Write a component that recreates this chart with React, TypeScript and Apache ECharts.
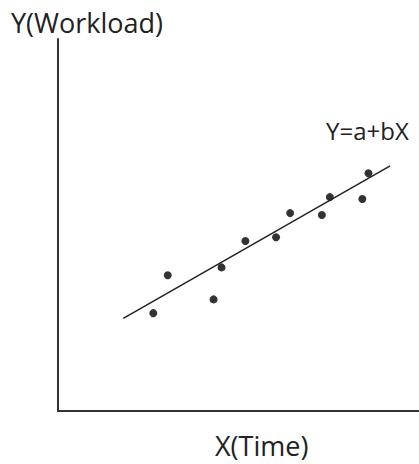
import React, { useEffect, useRef } from "react";
import * as echarts from "echarts";

const pointsX = [26.4, 30.4, 43.1, 45.3, 51.9, 60.4, 64.3, 73.1, 75.3, 84.3, 86.0];
const pointsY = [26.3, 36.5, 30.0, 38.6, 45.7, 46.7, 53.2, 52.7, 57.5, 57.0, 63.9];
const fitLineX = [18.1, 92.0];
const fitLineY = [24.9, 65.9];
const yAxisName = "Y(Workload)";
const xAxisName = "X(Time)";
const lineLabel = "Y=a+bX";

export default function App() {
  const ref = useRef<HTMLDivElement>(null);
  useEffect(() => {
    if (!ref.current) return;
    const chart = echarts.init(ref.current, null, { renderer: "svg" });
    const font = "'Open Sans', sans-serif";
    const textColor = "#222";
    chart.setOption({
      animation: false,
      backgroundColor: "#fff",
      title: {
        text: yAxisName,
        left: 11,
        top: 9,
        padding: 0,
        textStyle: { fontFamily: font, fontSize: 27, fontWeight: "normal", color: textColor },
      },
      graphic: [
        {
          type: "text",
          left: 215,
          top: 432,
          style: { text: xAxisName, fontFamily: font, fontSize: 27, fill: textColor },
        },
      ],
      grid: { left: 58, right: 0, top: 39, bottom: 53, containLabel: false },
      xAxis: {
        type: "value",
        min: 0,
        max: 100,
        axisLine: { show: true, onZero: false, lineStyle: { color: "#333", width: 2 } },
        axisTick: { show: false },
        axisLabel: { show: false },
        splitLine: { show: false },
      },
      yAxis: {
        type: "value",
        min: 0,
        max: 100,
        axisLine: { show: true, onZero: false, lineStyle: { color: "#333", width: 2 } },
        axisTick: { show: false },
        axisLabel: { show: false },
        splitLine: { show: false },
      },
      series: [
        {
          type: "line",
          data: fitLineX.map((x, i) => [x, fitLineY[i]]),
          symbol: "none",
          lineStyle: { color: "#222", width: 1.5 },
          silent: true,
          endLabel: {
            show: true,
            formatter: lineLabel,
            fontFamily: font,
            fontSize: 24,
            color: textColor,
            offset: [-72, -35],
          },
        },
        {
          type: "scatter",
          data: pointsX.map((x, i) => [x, pointsY[i]]),
          symbol: "circle",
          symbolSize: 8,
          itemStyle: { color: "#000" },
        },
      ],
    });
    return () => chart.dispose();
  }, []);
  return (
    <div
      ref={ref}
      style={{ position: "fixed", left: 0, top: 0, width: 419, height: 464 }}
    />
  );
}
